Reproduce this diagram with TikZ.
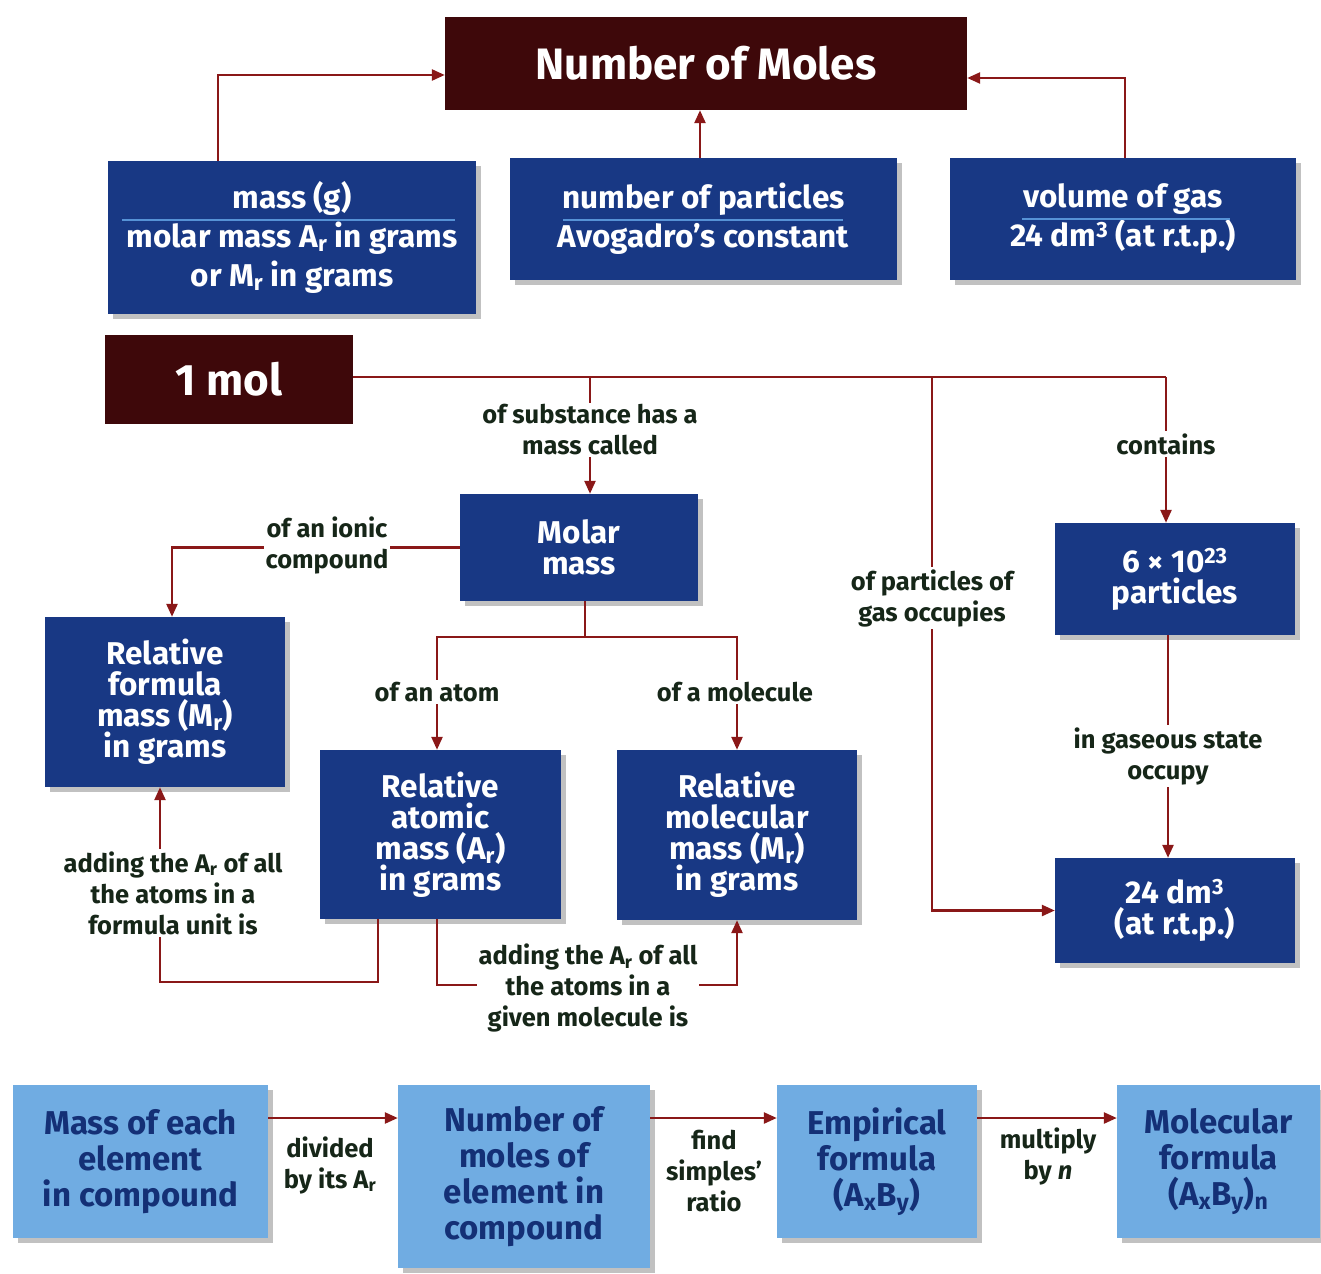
\documentclass[tikz,border=0pt]{standalone}
\usepackage{fontspec}
\setmainfont{Fira Sans}
\usetikzlibrary{arrows.meta,shadows}
\definecolor{maroon}{RGB}{62,8,10}
\definecolor{navy}{RGB}{24,56,132}
\definecolor{lightbl}{RGB}{112,172,226}
\definecolor{darkbl}{RGB}{20,48,118}
\definecolor{connred}{RGB}{138,24,24}
\definecolor{lbltext}{RGB}{22,38,24}
\definecolor{fraccol}{RGB}{86,146,214}
\begin{document}
\begin{tikzpicture}[x=1pt,y=-1pt,
  head/.style={fill=maroon,text=white,font=\bfseries\fontsize{44}{46}\selectfont,inner sep=0pt,align=center},
  box/.style={fill=navy,text=white,font=\bfseries\fontsize{31.5}{31}\selectfont,align=center,inner sep=0pt,
    drop shadow={shadow xshift=5pt,shadow yshift=-5pt,opacity=0.35,fill=black!70}},
  fracbox/.style={box,font=\bfseries\fontsize{31.5}{39}\selectfont},
  lbox/.style={box,fill=lightbl,text=darkbl,font=\bfseries\fontsize{33}{36}\selectfont},
  lbl/.style={text=lbltext,font=\bfseries\fontsize{25.5}{31}\selectfont,align=center,fill=white,inner sep=2pt},
  conn/.style={draw=connred,line width=2.5pt},
  arr/.style={conn,-{Triangle[length=13pt,width=11pt]}},
  fracline/.style={draw=fraccol,line width=2pt}]
\useasboundingbox (0,0) rectangle (1321,1273);

% top
\node[head,minimum width=522pt,minimum height=93pt] (nom) at (706,63.5) {Number of Moles};
\node[fracbox,minimum width=368pt,minimum height=153pt] (mass) at (292,237.5) {mass (g)\\molar mass A\textsubscript{r} in grams\\or M\textsubscript{r} in grams};
\node[fracbox,minimum width=387pt,minimum height=122pt] (part) at (703.5,219) {number of particles\\Avogadro’s constant};
\node[fracbox,minimum width=346pt,minimum height=122pt] (gas) at (1123,219) {volume of gas\\24 dm\textsuperscript{3} (at r.t.p.)};
\draw[fracline] (122,220) -- (455,220);
\draw[fracline] (563,220) -- (843,220);
\draw[fracline] (1022,219) -- (1230,219);

% middle
\node[head,minimum width=248pt,minimum height=89pt] (onemol) at (229,379.5) {1 mol};
\node[box,minimum width=238pt,minimum height=107pt] (molar) at (579,547.5) {Molar\\mass};
\node[box,minimum width=240pt,minimum height=170pt] (formula) at (165,702) {Relative\\formula\\mass (M\textsubscript{r})\\in grams};
\node[box,minimum width=241pt,minimum height=169pt] (atomic) at (440.5,834.5) {Relative\\atomic\\mass (A\textsubscript{r})\\in grams};
\node[box,minimum width=240pt,minimum height=170pt] (molec) at (737,835) {Relative\\molecular\\mass (M\textsubscript{r})\\in grams};
\node[box,minimum width=240pt,minimum height=112pt] (six) at (1175,579) {6 × 10\textsuperscript{23}\\particles};
\node[box,minimum width=240pt,minimum height=105pt] (dm) at (1175,910.5) {24 dm\textsuperscript{3}\\(at r.t.p.)};

% bottom row
\node[lbox,minimum width=255pt,minimum height=153pt] (b1) at (140.5,1161.5) {Mass of each\\element\\in compound};
\node[lbox,minimum width=252pt,minimum height=183pt] (b2) at (524,1176.5) {Number of\\moles of\\element in\\compound};
\node[lbox,minimum width=200pt,minimum height=153pt] (b3) at (877,1161.5) {Empirical\\formula\\(A\textsubscript{x}B\textsubscript{y})};
\node[lbox,minimum width=203pt,minimum height=153pt] (b4) at (1218.5,1161.5) {Molecular\\formula\\(A\textsubscript{x}B\textsubscript{y})\textsubscript{n}};

% coordinates
\coordinate (xA) at (218,0);
\coordinate (xP) at (700,0);
\coordinate (xC) at (1125,0);
\coordinate (jA) at (590,377);
\coordinate (jB) at (932,377);
\coordinate (jC) at (1166,377);
\coordinate (xF) at (172,0);
\coordinate (sp) at (585,637);
\coordinate (xAt) at (437,0);
\coordinate (xMo) at (737,0);
\coordinate (xL) at (378,0);
\coordinate (yL) at (0,982);
\coordinate (yL2) at (0,985);
\coordinate (xF2) at (160,0);
\coordinate (xS) at (1168,0);
\coordinate (yB) at (0,1118);

% connectors
\draw[arr] (mass.north -| xA) |- ([yshift=-11.5pt]nom.west);
\draw[arr] (part.north -| xP) -- (nom.south -| xP);
\draw[arr] (gas.north -| xC) |- ([yshift=-14.5pt]nom.east);

\draw[conn] (onemol.east |- jA) -- (jC);
\draw[arr] (jA) -- (molar.north -| jA);
\draw[arr] (jB) |- (dm.west);
\draw[arr] (jC) -- (six.north -| jC);

\draw[arr] (molar.west) -| (formula.north -| xF);
\draw[conn] (molar.south -| sp) -- (sp);
\draw[arr] (sp) -| (atomic.north -| xAt);
\draw[arr] (sp) -| (molec.north -| xMo);

\draw[arr] (atomic.south -| xL) |- (xF2 |- yL) -- (formula.south -| xF2);
\draw[arr] (atomic.south -| xAt) |- (yL2 -| molec.south) -- (molec.south);

\draw[arr] (six.south -| xS) -- (dm.north -| xS);

\draw[arr] (b1.east |- yB) -- (b2.west |- yB);
\draw[arr] (b2.east |- yB) -- (b3.west |- yB);
\draw[arr] (b3.east |- yB) -- (b4.west |- yB);

% labels
\node[lbl] (lsub) at (590,430) {of substance has a\\mass called};
\node[lbl] (lgas) at (932,598) {of particles of\\gas occupies};
\node[lbl] (lcont) at (1166,444) {contains};
\node[lbl] (lionic) at (327,545) {of an ionic\\compound};
\node[lbl] (latom) at (437,692) {of an atom};
\node[lbl] (lmol) at (735,692) {of a molecule};
\node[lbl] (lgasst) at (1168,756) {in gaseous state\\occupy};
\node[lbl] (lform) at (173,893) {adding the A\textsubscript{r} of all\\the atoms in a\\formula unit is};
\node[lbl] (lmolec) at (588,988) {adding the A\textsubscript{r} of all\\the atoms in a\\given molecule is};
\node[lbl] (ldiv) at (330,1165) {divided\\by its A\textsubscript{r}};
\node[lbl] (lfind) at (714,1171) {find\\simples’\\ratio};
\node[lbl] (lmult) at (1048,1156) {multiply\\by \textit{n}};
\end{tikzpicture}
\end{document}
